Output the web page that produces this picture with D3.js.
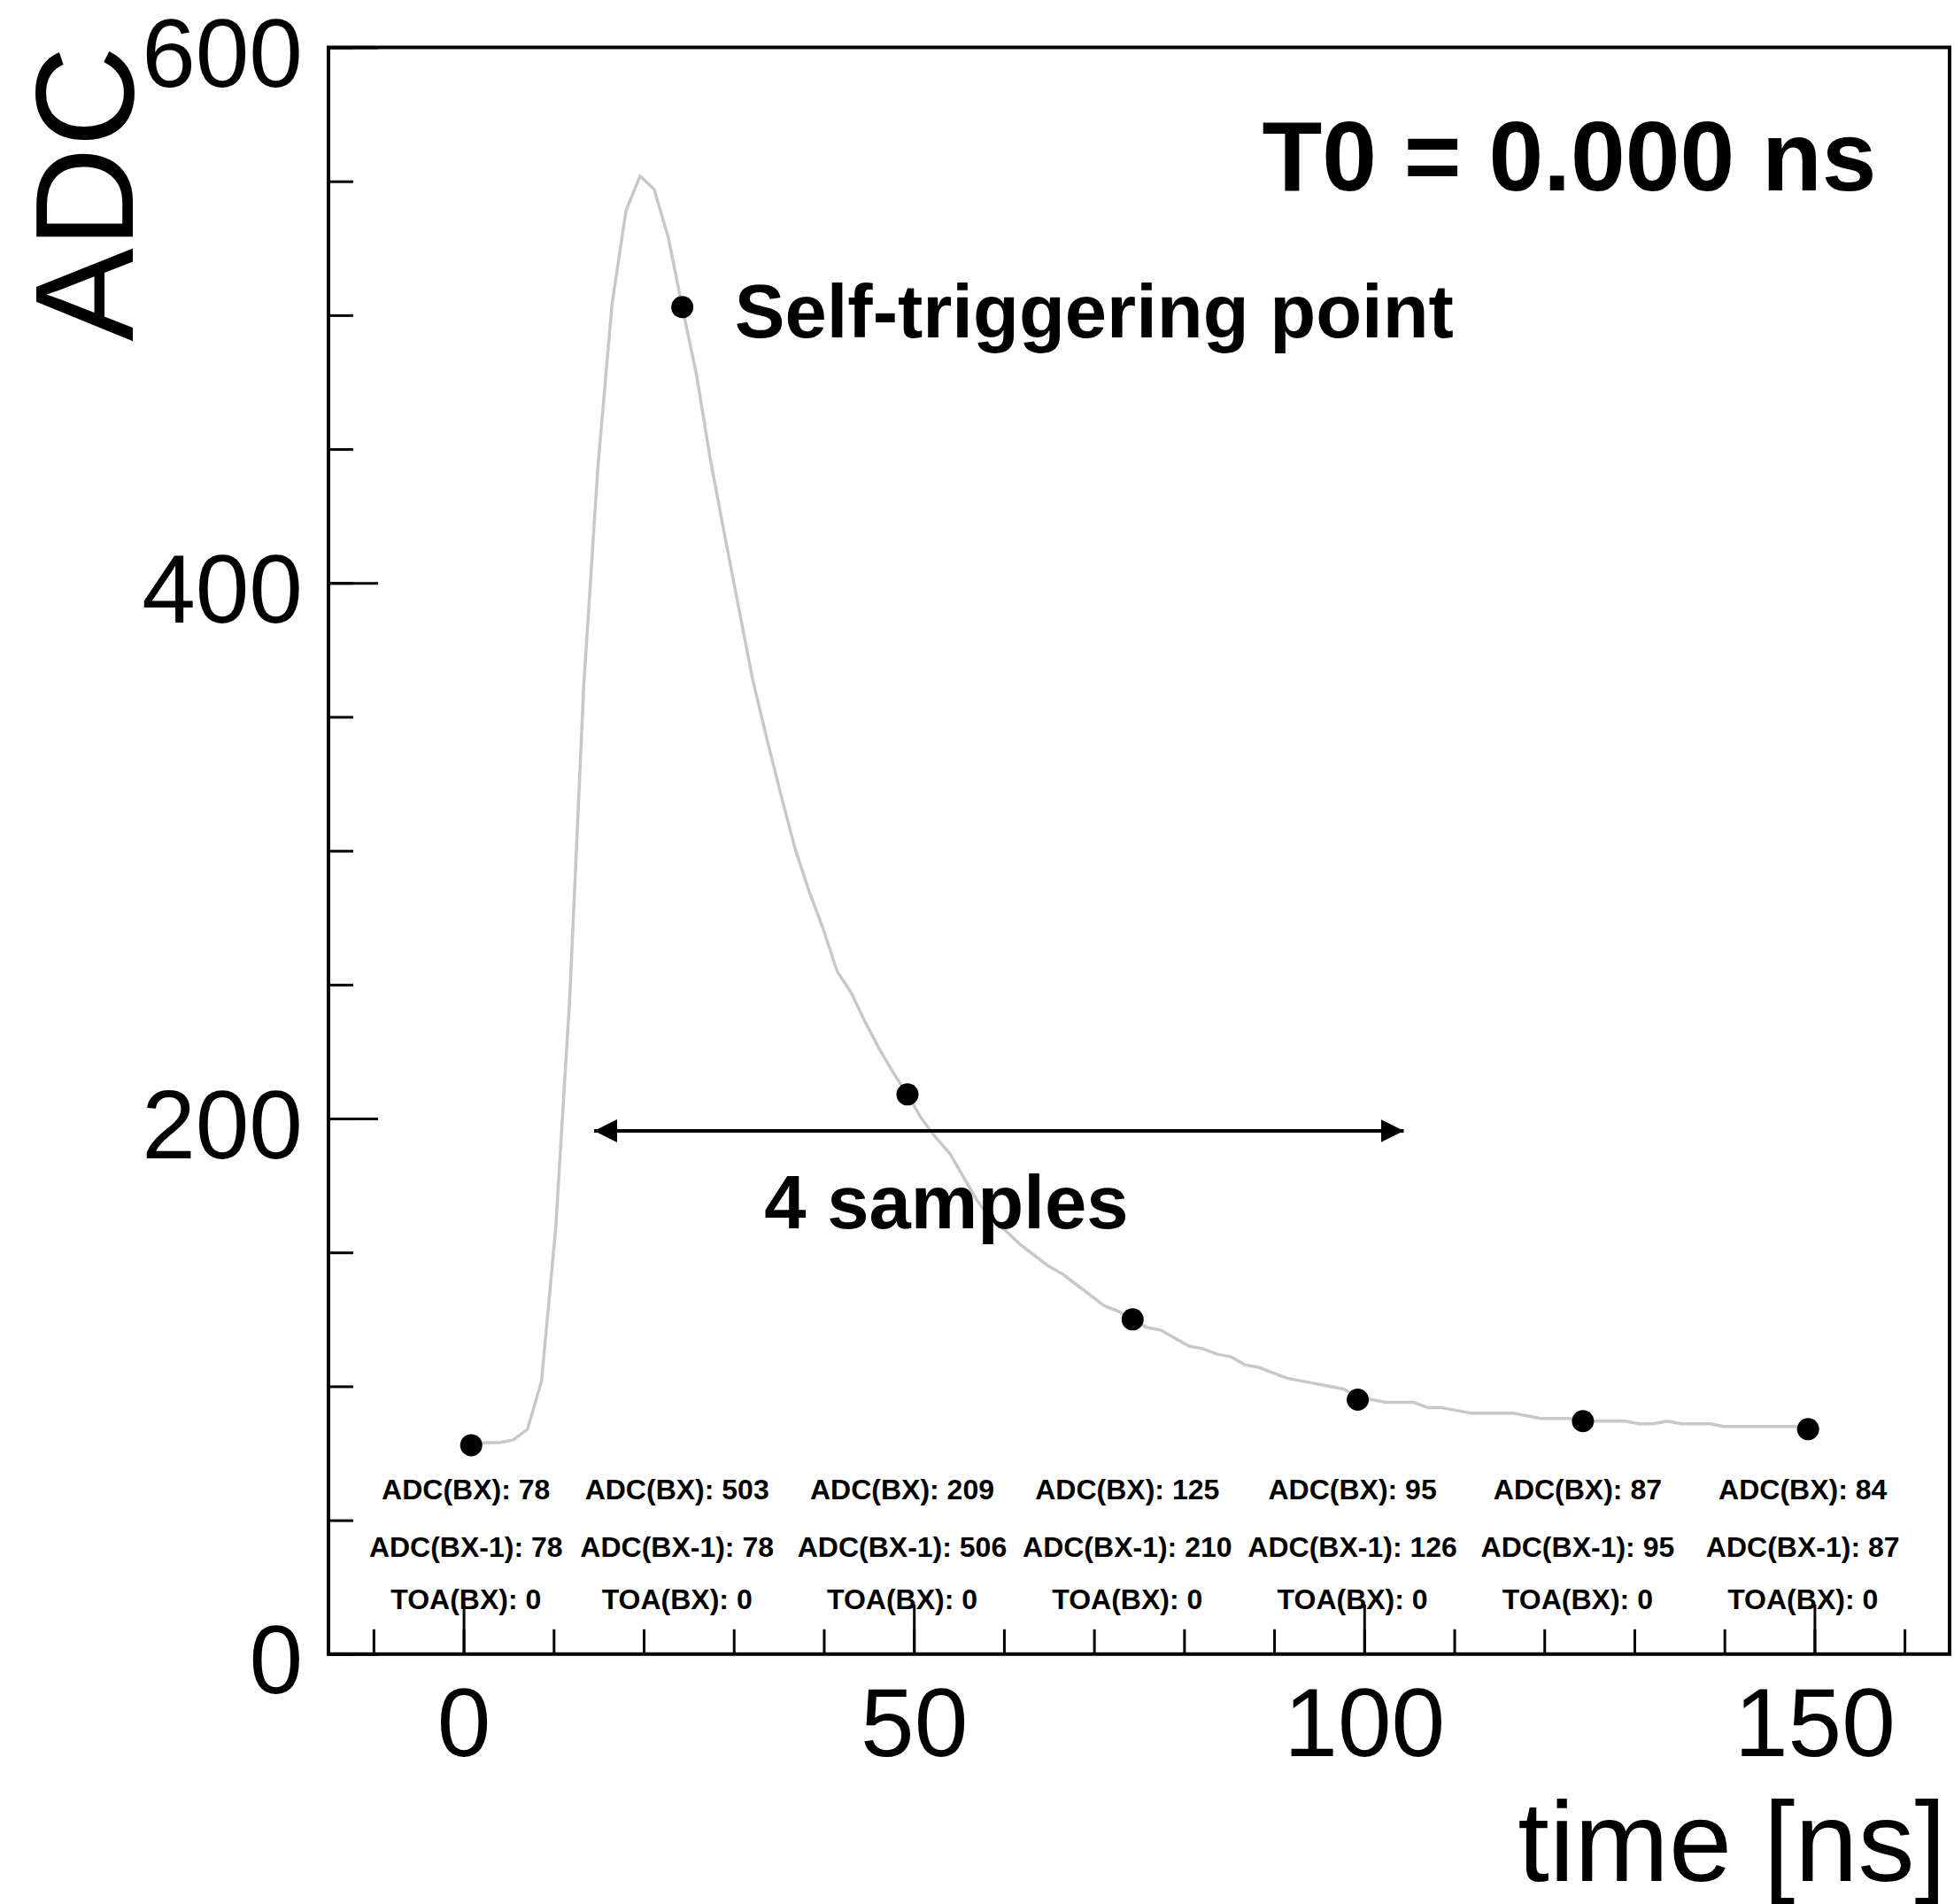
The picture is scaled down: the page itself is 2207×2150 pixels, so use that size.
<!DOCTYPE html>
<html>
<head>
<meta charset="utf-8">
<script src="https://cdn.jsdelivr.net/npm/d3@7"></script>
<style>
  body { margin: 0; background: #fff; }
  svg { display: block; font-family: "Liberation Sans", Arial, Helvetica, sans-serif; }
</style>
</head>
<body>
<script>
// waveform (time in ns, ADC counts)
var waveTime = [0.85, 2.41, 3.98, 5.54, 7.10, 8.66, 10.23, 11.79, 13.35, 14.91,
  16.48, 18.04, 19.60, 21.16, 22.73, 24.29, 25.85, 27.41, 28.98, 30.54,
  32.10, 33.66, 35.23, 36.79, 38.35, 39.91, 41.48, 43.04, 44.60, 46.16,
  47.73, 49.29, 50.85, 52.41, 53.98, 55.54, 57.10, 58.66, 60.23, 61.79,
  63.35, 64.91, 66.48, 68.04, 69.60, 71.16, 72.73, 74.29, 75.85, 77.41,
  78.98, 80.54, 82.10, 83.66, 85.23, 86.79, 88.35, 89.91, 91.48, 93.04,
  94.60, 96.16, 97.73, 99.29, 100.85, 102.41, 103.98, 105.54, 107.10, 108.66,
  110.23, 111.79, 113.35, 114.91, 116.48, 118.04, 119.60, 121.16, 122.73, 124.29,
  125.85, 127.41, 128.98, 130.54, 132.10, 133.66, 135.23, 136.79, 138.35, 139.91,
  141.48, 143.04, 144.60, 146.16, 147.73, 149.29];
var waveADC = [78, 79, 79, 80, 84, 102, 159, 245, 362, 443,
  504, 539, 552, 547, 529, 503, 478, 446, 418, 391,
  364, 342, 321, 301, 285, 271, 255, 247, 236, 226,
  217, 209, 200, 193, 187, 178, 169, 162, 158, 153,
  149, 145, 142, 138, 134, 130, 128, 125, 122, 121,
  118, 115, 114, 112, 111, 108, 107, 105, 103, 102,
  101, 100, 99, 96, 95, 94, 94, 94, 92, 92,
  91, 90, 90, 90, 90, 89, 88, 88, 88, 87,
  87, 87, 87, 86, 86, 87, 86, 86, 86, 85,
  85, 85, 85, 85, 85, 84];

// sampled points
var sampleTime = [0.85, 24.29, 49.29, 74.29, 99.29, 124.29, 149.29];
var adcBX = [78, 503, 209, 125, 95, 87, 84];
var adcBX1 = [78, 78, 506, 210, 126, 95, 87];
var toaBX = [0, 0, 0, 0, 0, 0, 0];

var xMajorTicks = [0, 50, 100, 150];
var xMinorTicks = [-10, 0, 10, 20, 30, 40, 50, 60, 70, 80, 90, 100, 110, 120, 130, 140, 150, 160];
var yMajorTicks = [0, 200, 400, 600];
var yMinorTicks = [0, 50, 100, 150, 200, 250, 300, 350, 400, 450, 500, 550, 600];

var W = 2207, H = 2150;

var svg = d3.select("body").append("svg")
  .attr("width", W)
  .attr("height", H);

var x = d3.scaleLinear().domain([-15, 165]).range([371, 2202]);
var y = d3.scaleLinear().domain([0, 600]).range([1867.8, 53.5]);

var data = waveTime.map(function(t, i) { return { t: t, a: waveADC[i] }; });

// curve
svg.append("path")
  .datum(data)
  .attr("fill", "none")
  .attr("stroke", "#c8c8c8")
  .attr("stroke-width", 3.5)
  .attr("stroke-linejoin", "round")
  .attr("d", d3.line().x(function(d) { return x(d.t); }).y(function(d) { return y(d.a); }));

// x axis
svg.append("g")
  .attr("transform", "translate(0," + y(0) + ")")
  .call(d3.axisBottom(x).tickValues(xMinorTicks).tickSize(-28).tickSizeOuter(0).tickFormat(""));
var xMajor = svg.append("g")
  .attr("transform", "translate(0," + y(0) + ")")
  .call(d3.axisBottom(x).tickValues(xMajorTicks).tickSize(-56).tickSizeOuter(0).tickFormat(d3.format("d")));
xMajor.selectAll("text")
  .attr("y", 0)
  .attr("dy", 115)
  .attr("font-size", 109)
  .attr("font-family", "Liberation Sans, Arial, sans-serif")
  .attr("fill", "#000");

// y axis
svg.append("g")
  .attr("transform", "translate(" + x(-15) + ",0)")
  .call(d3.axisLeft(y).tickValues(yMinorTicks).tickSize(-28).tickSizeOuter(0).tickFormat(""));
var yMajor = svg.append("g")
  .attr("transform", "translate(" + x(-15) + ",0)")
  .call(d3.axisLeft(y).tickValues(yMajorTicks).tickSize(-56).tickSizeOuter(0).tickFormat(d3.format("d")));
yMajor.selectAll("text")
  .attr("x", -29)
  .attr("dy", 44)
  .attr("font-size", 109)
  .attr("font-family", "Liberation Sans, Arial, sans-serif")
  .attr("fill", "#000");

svg.selectAll(".domain").remove();
svg.selectAll(".tick line").attr("stroke", "#000").attr("stroke-width", 3);

// frame
svg.append("rect")
  .attr("x", x(-15))
  .attr("y", y(600))
  .attr("width", x(165) - x(-15))
  .attr("height", y(0) - y(600))
  .attr("fill", "none")
  .attr("stroke", "#000")
  .attr("stroke-width", 4);

// axis titles
svg.append("text")
  .attr("x", 2198)
  .attr("y", 2124)
  .attr("text-anchor", "end")
  .attr("font-size", 128)
  .text("time [ns]");

svg.append("text")
  .attr("transform", "translate(150,52) rotate(-90)")
  .attr("text-anchor", "end")
  .attr("font-size", 158)
  .text("ADC");

// sample dots
svg.selectAll(".dot")
  .data(sampleTime)
  .enter().append("circle")
  .attr("class", "dot")
  .attr("cx", function(d) { return x(d); })
  .attr("cy", function(d, i) { return y(adcBX[i]); })
  .attr("r", 12.5)
  .attr("fill", "#000");

// per-sample text rows
var rows = [
  { v: 57.8, f: function(i) { return "ADC(BX): " + adcBX[i]; } },
  { v: 36.3, f: function(i) { return "ADC(BX-1): " + adcBX1[i]; } },
  { v: 16.9, f: function(i) { return "TOA(BX): " + toaBX[i]; } }
];
rows.forEach(function(r) {
  svg.selectAll(null)
    .data(sampleTime)
    .enter().append("text")
    .attr("x", function(d) { return x(d) - 6; })
    .attr("y", y(r.v))
    .attr("text-anchor", "middle")
    .attr("font-size", 32)
    .attr("font-weight", "bold")
    .text(function(d, i) { return r.f(i); });
});

// annotations
svg.append("text")
  .attr("x", x(156.9))
  .attr("y", y(546.6))
  .attr("text-anchor", "end")
  .attr("font-size", 111)
  .attr("font-weight", "bold")
  .text("T0 = 0.000 ns");

svg.append("text")
  .attr("x", x(30.1))
  .attr("y", y(491.7))
  .attr("font-size", 85)
  .attr("font-weight", "bold")
  .text("Self-triggering point");

svg.append("text")
  .attr("x", x(33.4))
  .attr("y", y(159))
  .attr("font-size", 85)
  .attr("font-weight", "bold")
  .text("4 samples");

// double arrow
var defs = svg.append("defs");
defs.append("marker")
  .attr("id", "head")
  .attr("markerUnits", "userSpaceOnUse")
  .attr("viewBox", "0 0 26 26")
  .attr("refX", 26).attr("refY", 13)
  .attr("markerWidth", 26).attr("markerHeight", 26)
  .attr("orient", "auto-start-reverse")
  .append("path")
  .attr("d", "M0,0L26,13L0,26Z")
  .attr("fill", "#000");

svg.append("line")
  .attr("x1", x(14.5))
  .attr("x2", x(104.4))
  .attr("y1", y(195.4))
  .attr("y2", y(195.4))
  .attr("stroke", "#000")
  .attr("stroke-width", 4)
  .attr("marker-start", "url(#head)")
  .attr("marker-end", "url(#head)");
</script>
</body>
</html>
